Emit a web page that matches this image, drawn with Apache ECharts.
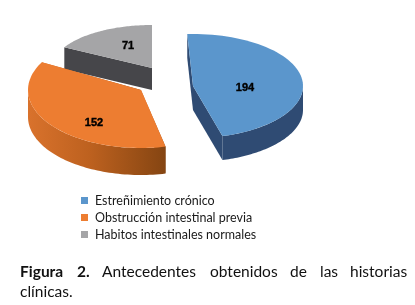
<!DOCTYPE html>
<html><head><meta charset="utf-8">
<style>html,body{margin:0;padding:0;background:#fff}#c{width:415px;height:305px}</style>
<script src="https://cdn.jsdelivr.net/npm/echarts@6/dist/echarts.min.js"></script>
</head><body><div id="c"></div>
<script>
const categories = ['Estreñimiento crónico', 'Obstrucción intestinal previa', 'Habitos intestinales normales'];
const values = [194, 152, 71];
const colors = ['#5b96cc', '#ed7d31', '#a5a5a7'];
const layouts = [
  {cx:193, cy:86, rx:110, ry:52, depth:24, rot:-3, lx:245, ly:88},
  {cx:141, cy:90, rx:113, ry:58, depth:27, rot:0, lx:94, ly:123},
  {cx:152, cy:68, rx:100, ry:43, depth:22, rot:0, lx:128, ly:46}
];
const total = values.reduce((a,b)=>a+b,0);
const startFrac = i => values.slice(0,i).reduce((a,b)=>a+b,0)/total;
const pt = (l,a,dz=0)=>[l.cx+l.rx*Math.sin(a), l.cy-l.ry*Math.cos(a)+dz];
function arc(l,a0,a1,dz=0){const n=64,o=[];for(let k=0;k<=n;k++)o.push(pt(l,a0+(a1-a0)*k/n,dz));return o;}
const dark = {
  0:'#2f4b73',
  1:{type:'linear',x:0,y:0,x2:1,y2:0,colorStops:[{offset:0,color:'#d9722c'},{offset:.45,color:'#bd611f'},{offset:1,color:'#854512'}]},
  2:'#46464a'
};
function renderItem(i){return function(params,api){
  const l=layouts[i], v=api.value(0);
  const a0=startFrac(i)*2*Math.PI+l.rot*Math.PI/180, a1=a0+v/total*2*Math.PI;
  const children=[];
  const side=(pts)=>({type:'polygon',shape:{points:pts},style:{fill:dark[i]},silent:true});
  const c=[l.cx,l.cy];
  const down=p=>[p[0],p[1]+l.depth];
  const e0=pt(l,a0), e1=pt(l,a1);
  children.push(side([c,e0,down(e0),down(c)]));
  children.push(side([c,e1,down(e1),down(c)]));
  const w0=Math.max(a0,Math.PI/2), w1=Math.min(a1,1.5*Math.PI);
  if(w1>w0){const top=arc(l,w0,w1),bot=arc(l,w0,w1,l.depth).reverse();children.push(side(top.concat(bot)));}
  children.push({type:'polygon',shape:{points:[c].concat(arc(l,a0,a1))},style:{fill:colors[i]},silent:true});
  children.push({type:'text',x:l.lx,y:l.ly,style:{text:String(v),fill:'#000',stroke:'#000',lineWidth:.4,font:'bold 11px "Liberation Sans"',align:'center',verticalAlign:'middle'},silent:true});
  return {type:'group',children};
}}
const order=[2,1,0];
const series=order.map(i=>({type:'custom',name:categories[i],coordinateSystem:'none',renderItem:renderItem(i),data:[[values[i]]],itemStyle:{color:colors[i]},animation:false}));
const captionWords=[
 {t:'Figura',x:20,y:273,b:1},{t:'2.',x:77,y:273,b:1},{t:'Antecedentes',x:102,y:273},{t:'obtenidos',x:210,y:273},{t:'de',x:290,y:273},{t:'las',x:320,y:273},{t:'historias',x:350,y:273},{t:'clínicas.',x:20,y:293}
];
const chart=echarts.init(document.getElementById('c'),null,{renderer:'canvas'});
chart.setOption({
  backgroundColor:'#fff',animation:false,
  legend:{orient:'vertical',left:81,top:194,itemWidth:7,itemHeight:7,itemGap:4,selectedMode:false,icon:'rect',
    data:categories,textStyle:{fontFamily:'Lato',fontSize:12.5,lineHeight:12,color:'#1a1a1a',padding:[0,0,0,2]},padding:0},
  graphic:captionWords.map(w=>({type:'text',left:w.x,top:w.y-9,silent:true,style:{text:w.t,fill:'#111',font:(w.b?'bold ':'')+'15.5px Lato'}})),
  series
});
</script></body></html>
